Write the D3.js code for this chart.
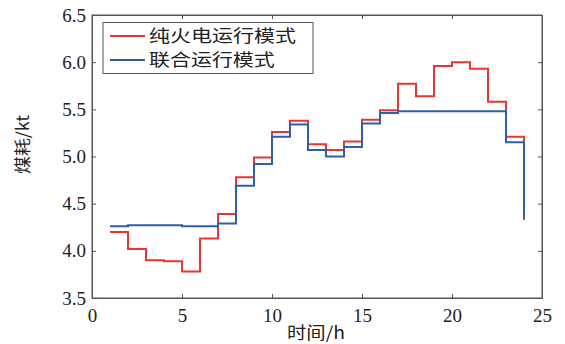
<!DOCTYPE html>
<html>
<head>
<meta charset="utf-8">
<script src="https://cdn.jsdelivr.net/npm/d3@7"></script>
<style>
body { margin: 0; background: #fff; }
svg { display: block; }
</style>
</head>
<body>
<svg width="565" height="344"></svg>
<script>
const svg = d3.select("svg");

const hours = d3.range(1, 25);
const thermalOnly = [4.20, 4.02, 3.90, 3.89, 3.78, 4.13, 4.39, 4.78, 4.99, 5.26, 5.38, 5.13,
    5.07, 5.16, 5.39, 5.49, 5.77, 5.64, 5.96, 6.00, 5.93, 5.58, 5.21, 5.15];
const combined = [4.26, 4.27, 4.27, 4.27, 4.26, 4.26, 4.29, 4.69, 4.92, 5.21, 5.34, 5.07,
    5.00, 5.10, 5.35, 5.46, 5.48, 5.48, 5.48, 5.48, 5.48, 5.48, 5.15, 4.33];
const seriesNames = ["纯火电运行模式", "联合运行模式"];
const seriesColors = ["#f03232", "#2d5fae"];
const xTicks = [0, 5, 10, 15, 20, 25];
const yTicks = [3.5, 4.0, 4.5, 5.0, 5.5, 6.0, 6.5];

const x = d3.scaleLinear().domain([0, 25]).range([92, 542]);
const y = d3.scaleLinear().domain([3.5, 6.5]).range([298, 15]);

const axisColor = "#555";
const serif = "'Liberation Serif', 'DejaVu Serif', serif";
const cjk = "'Noto Sans CJK SC', sans-serif";

// box
svg.append("rect")
    .attr("x", x(0)).attr("y", y(6.5))
    .attr("width", x(25) - x(0)).attr("height", y(3.5) - y(6.5))
    .attr("fill", "none").attr("stroke", axisColor).attr("stroke-width", 1);

const xAxis = svg.append("g")
    .attr("transform", `translate(0,${y(3.5)})`)
    .call(d3.axisBottom(x).tickValues(xTicks).tickSize(-4).tickPadding(8).tickFormat(d3.format("d")));
const yAxis = svg.append("g")
    .attr("transform", `translate(${x(0)},0)`)
    .call(d3.axisLeft(y).tickValues(yTicks).tickSize(-4).tickPadding(6).tickFormat(d3.format(".1f")));
svg.append("g")
    .attr("transform", `translate(0,${y(6.5)})`)
    .call(d3.axisTop(x).tickValues(xTicks).tickSize(-4).tickFormat(""));
svg.append("g")
    .attr("transform", `translate(${x(25)},0)`)
    .call(d3.axisRight(y).tickValues(yTicks).tickSize(-4).tickFormat(""));

// d3 axes put font-family="sans-serif" on the group; replace it
svg.selectAll("g").attr("font-family", null).attr("font-size", null);
svg.selectAll(".domain").attr("stroke", axisColor);
svg.selectAll(".tick line").attr("stroke", axisColor);
svg.selectAll(".tick text")
    .attr("fill", "#222")
    .attr("font-family", serif)
    .attr("font-size", 19);
xAxis.selectAll(".tick text").attr("dy", "0.85em");

const line = d3.line()
    .x((d, i) => x(hours[i]))
    .y(d => y(d))
    .curve(d3.curveStepAfter);

[thermalOnly, combined].forEach((s, k) => {
    svg.append("path")
        .datum(s)
        .attr("d", line)
        .attr("fill", "none")
        .attr("stroke", seriesColors[k])
        .attr("stroke-width", 2);
});

// legend
const legend = svg.append("g");
legend.append("rect")
    .attr("x", 103).attr("y", 22.5).attr("width", 210).attr("height", 51)
    .attr("fill", "#fff").attr("stroke", axisColor).attr("stroke-width", 1);
seriesNames.forEach((name, k) => {
    const cy = 36 + k * 24;
    legend.append("line")
        .attr("x1", 110).attr("x2", 145).attr("y1", cy).attr("y2", cy)
        .attr("stroke", seriesColors[k]).attr("stroke-width", 2);
    legend.append("text")
        .attr("x", 149).attr("y", cy).attr("dy", "0.36em")
        .attr("textLength", name.length * 21.3 - 2)
        .attr("lengthAdjust", "spacingAndGlyphs")
        .attr("font-family", cjk)
        .attr("font-size", 17)
        .attr("fill", "#222")
        .text(name);
});

// axis titles
svg.append("text")
    .attr("x", x(12.5) - 1).attr("y", 339)
    .attr("text-anchor", "middle")
    .attr("textLength", 58)
    .attr("lengthAdjust", "spacingAndGlyphs")
    .attr("font-family", cjk)
    .attr("font-size", 17)
    .attr("fill", "#222")
    .text("时间/h");
svg.append("text")
    .attr("transform", `translate(29,${y(5) - 12}) rotate(-90)`)
    .attr("text-anchor", "middle")
    .attr("textLength", 59)
    .attr("lengthAdjust", "spacingAndGlyphs")
    .attr("font-family", cjk)
    .attr("font-size", 17)
    .attr("fill", "#222")
    .text("煤耗/kt");
</script>
</body>
</html>
